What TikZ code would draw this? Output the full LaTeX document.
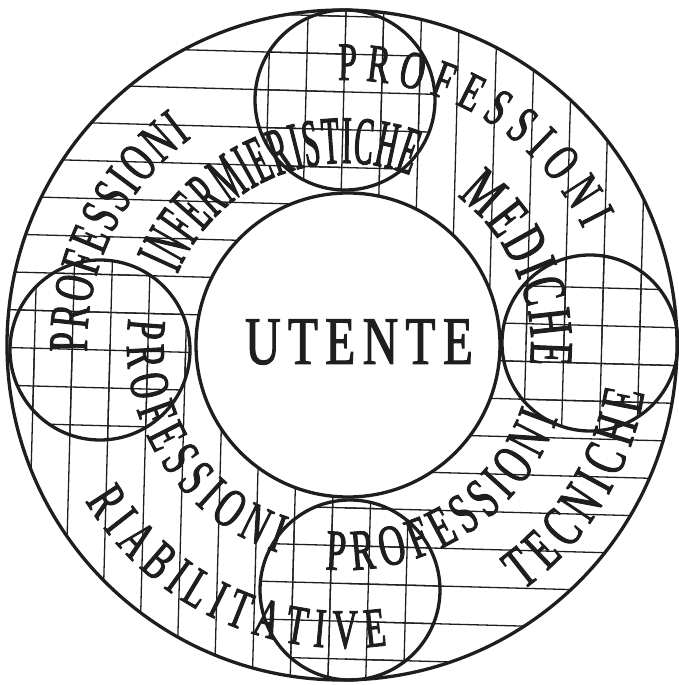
\documentclass[tikz,border=0pt]{standalone}
\usepackage{fontspec}
\usetikzlibrary{decorations.text}
\definecolor{ink}{HTML}{1E1E1E}
\newfontfamily\hand[FakeStretch=0.62,FakeBold=1.6]{Liberation Serif}
\newfontfamily\handN[FakeStretch=0.42,FakeBold=1.6]{Liberation Serif}
\newfontfamily\handW[FakeStretch=0.72,FakeBold=1.6,LetterSpace=11]{Liberation Serif}
\newcommand\fs[1]{\fontsize{#1}{#1}\selectfont}
\begin{document}
\begin{tikzpicture}[x=1pt,y=1pt,
  ring/.style={ink,line width=3.3pt},
  grid/.style={ink,line width=1.3pt},
  curved/.style={decorate,decoration={text along path,text align={fit to path},text color=ink,text={#1}}},
  centre/.style={inner sep=0,text=ink,font=\handW\fs{68}}]
\useasboundingbox (-345,-340) rectangle (333,345);
\def\R{335}  % outer ring
\def\r{152}  % user circle
\def\gs{37.8} % hatch spacing
\newcommand\hgrid{\begin{scope}[rotate=-1.55]
  \foreach \k in {-9,...,9} \draw[grid] (-380,\k*\gs-11.6) -- (380,\k*\gs-11.6);
  \end{scope}}
\newcommand\vgrid{\begin{scope}[rotate=-1.55]
  \foreach \k in {-9,...,9} \draw[grid] (\k*\gs-8,-380) -- (\k*\gs-8,380);
  \end{scope}}
% ============ hatching ============
\begin{scope}
  \clip (-3,0) circle[radius=\R];
  \clip (-400,0) rectangle (0,400) (0,0) rectangle (400,-400);
  \hgrid
\end{scope}
\begin{scope}
  \clip (-3,0) circle[radius=\R];
  \clip (0,0) rectangle (400,400) (-400,0) rectangle (0,-400);
  \vgrid
\end{scope}
\begin{scope}
  \clip (0,245) circle[radius=90] (-245,-5) circle[radius=90]
        (245,2) circle[radius=88] (5,-245) circle[radius=90];
  \hgrid
  \vgrid
\end{scope}
\fill[white] (3,0) circle[radius=\r];
% ============ circles ============
\draw[ring] (-3,0) circle[radius=\R];
\draw[ring] (3,0) circle[radius=\r];
\draw[ring] (0,245) circle[radius=90];
\draw[ring] (-245,-5) circle[radius=90];
\draw[ring] (245,2) circle[radius=88];
\draw[ring] (5,-245) circle[radius=90];
% ============ lettering ============
\node[centre] (user) at (14,3) {UTENTE};
% infermieristiche
\path[curved={|\hand\fs{56}|PROFESSIONI}] (181.5:258) arc[start angle=181.5,end angle=126.5,radius=258];
\path[curved={|\handN\fs{68}|INFERMIERISTICHE}] (157:182) arc[start angle=157,end angle=69,radius=182];
% mediche
\path[curved={|\hand\fs{54}|PROFESSIONI}] (91.5:265) arc[start angle=91.5,end angle=26,radius=265];
\path[curved={|\hand\fs{62}|MEDICHE}] (53:186) arc[start angle=53,end angle=-6,radius=186];
% riabilitative
\path[curved={|\hand\fs{56}|PROFESSIONI}] (173:218) arc[start angle=173,end angle=252,radius=218];
\path[curved={|\hand\fs{56}|RIABILITATIVE}] (211:303) arc[start angle=211,end angle=278,radius=303];
% tecniche
\path[curved={|\hand\fs{58}|PROFESSIONI}] (265:225) arc[start angle=265,end angle=341,radius=225];
\path[curved={|\hand\fs{60}|TECNICHE}] (306:303) arc[start angle=306,end angle=351,radius=303];
\end{tikzpicture}
\end{document}
